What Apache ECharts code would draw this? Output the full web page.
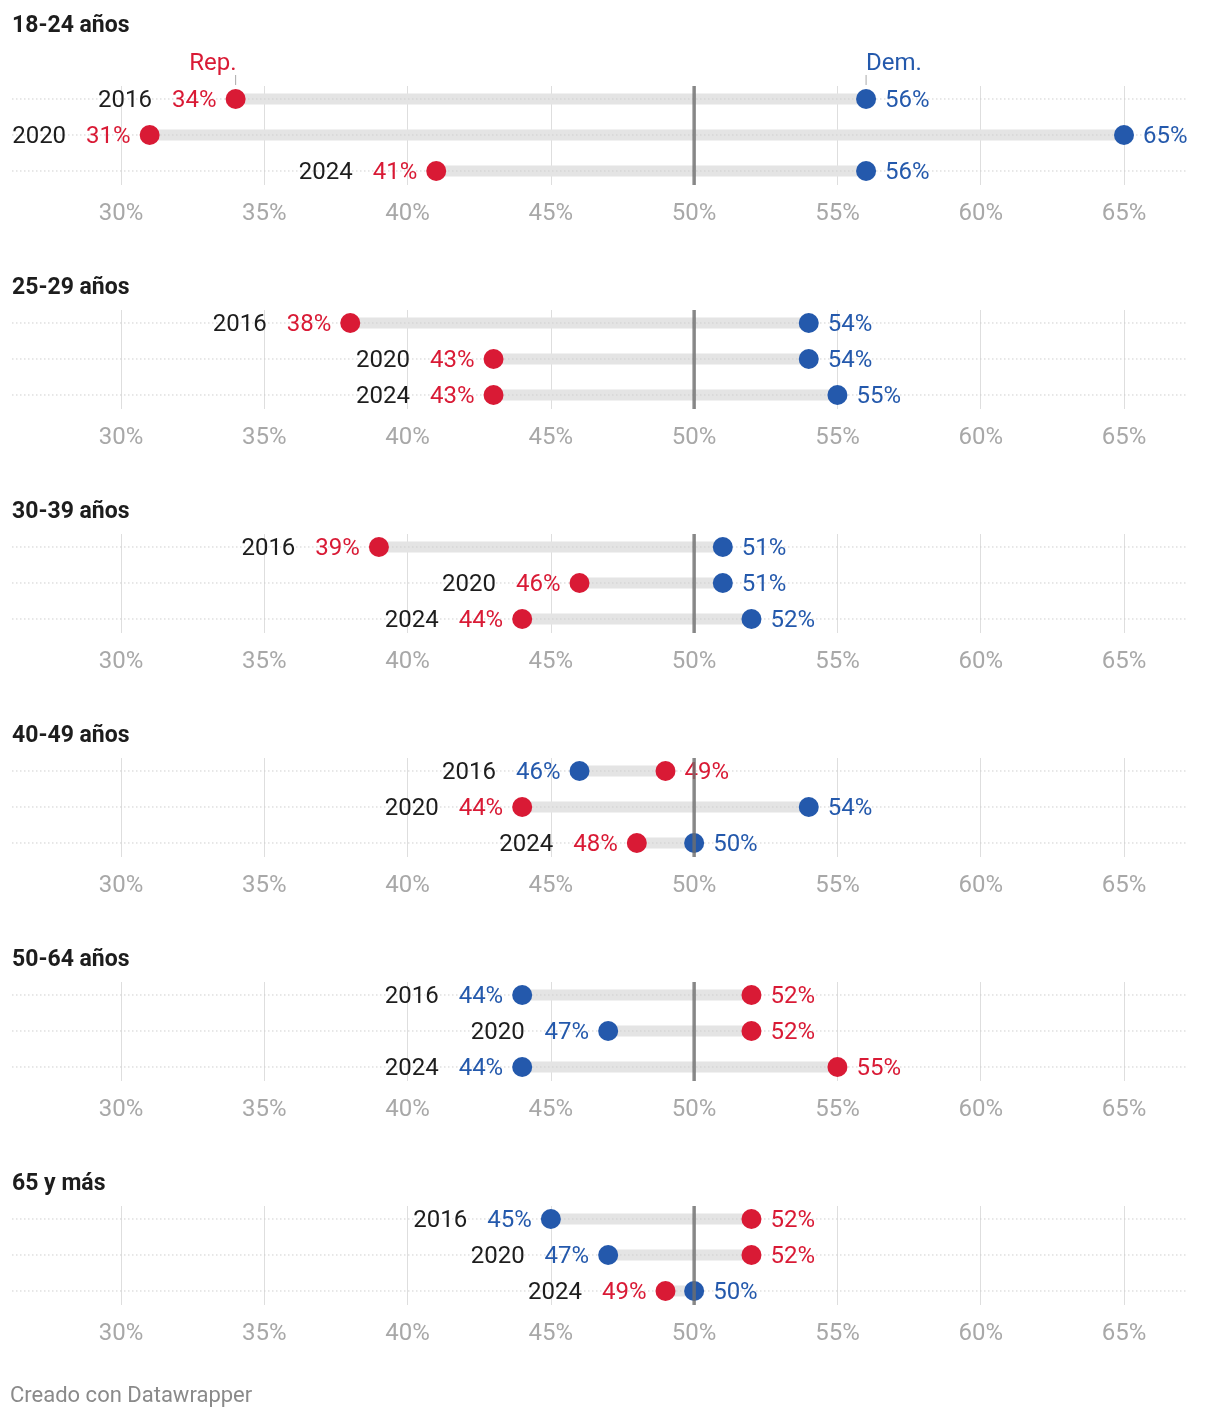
<!DOCTYPE html>
<html>
<head>
<meta charset="utf-8">
<script src="https://cdn.jsdelivr.net/npm/echarts@6/dist/echarts.min.js"></script>
<style>
  html, body { margin: 0; padding: 0; background: #ffffff; }
  #chart { width: 1220px; height: 1418px; }
</style>
</head>
<body>
<div id="chart"></div>
<script>
// ---- Data ----
const groups = ['18-24 años', '25-29 años', '30-39 años', '40-49 años', '50-64 años', '65 y más'];
const years = ['2016', '2020', '2024'];
const repShare = [
  [34, 31, 41],
  [38, 43, 43],
  [39, 46, 44],
  [49, 44, 48],
  [52, 52, 55],
  [52, 52, 49]
];
const demShare = [
  [56, 65, 56],
  [54, 54, 55],
  [51, 51, 52],
  [46, 54, 50],
  [44, 47, 44],
  [45, 47, 50]
];
const tickValues = [30, 35, 40, 45, 50, 55, 60, 65];
const midline = 50;
const repLabel = 'Rep.';
const demLabel = 'Dem.';
const footer = 'Creado con Datawrapper';

// ---- Style ----
const FONT = 'Roboto, "Noto Sans", sans-serif';
const REP = '#d91a35';
const DEM = '#2459ac';
const TXT = '#1d1d1d';
const FS = 24;

const X0 = 121, PX = (1124 - 121) / 35;   // pixel of 30%, px per point
const AX_MIN = 25, AX_MAX = 70;
const PANEL_STEP = 224;
const ROW_LINE_LEFT = 12, ROW_LINE_RIGHT = 1186;

const measureCtx = document.createElement('canvas').getContext('2d');
measureCtx.font = FS + 'px ' + FONT;
function tw(t) { return measureCtx.measureText(t).width; }

const chart = echarts.init(document.getElementById('chart'), null, { renderer: 'canvas' });

const grids = [], xAxes = [], yAxes = [], series = [], titles = [];
groups.forEach((g, k) => {
  const top = 86 + PANEL_STEP * k;
  grids.push({
    left: X0 - (30 - AX_MIN) * PX,
    width: (AX_MAX - AX_MIN) * PX,
    top: top,
    height: 99,
    containLabel: false,
    outerBoundsMode: 'none'
  });
  xAxes.push({
    type: 'value', gridIndex: k, min: AX_MIN, max: AX_MAX, interval: 5,
    axisLine: { show: false }, axisTick: { show: false },
    axisLabel: {
      margin: 17, color: '#a8a8a8', fontSize: FS, fontFamily: FONT,
      formatter: v => tickValues.indexOf(v) >= 0 ? v + '%' : ''
    },
    splitLine: { show: true, lineStyle: { color: '#dedede', width: 1 } }
  });
  yAxes.push({
    type: 'value', gridIndex: k, inverse: true, min: -0.361, max: 2.389,
    show: false, splitLine: { show: false }
  });
  titles.push({
    text: g, left: 12, top: (k === 0 ? 13 : 275 + PANEL_STEP * (k - 1)), padding: 0,
    textStyle: { fontSize: 23, fontWeight: 'bold', color: TXT, fontFamily: FONT, lineHeight: 26 }
  });

  const data = years.map((y, i) => [i, repShare[k][i], demShare[k][i]]);
  series.push({
    type: 'custom', xAxisIndex: k, yAxisIndex: k, clip: false, z: 2,
    dimensions: ['row', 'rep', 'dem'],
    encode: { x: [1, 2], y: 0 },
    data: data,
    renderItem: function (params, api) {
      const row = api.value(0), r = api.value(1), d = api.value(2);
      const pr = api.coord([r, row]);
      const pd = api.coord([d, row]);
      const y = pr[1];
      const ty = y + 2;
      const repLeft = pr[0] <= pd[0];
      const lx = Math.min(pr[0], pd[0]), rx = Math.max(pr[0], pd[0]);
      const lText = (repLeft ? r : d) + '%', rText = (repLeft ? d : r) + '%';
      const lCol = repLeft ? REP : DEM, rCol = repLeft ? DEM : REP;
      const font = FS + 'px ' + FONT;
      const children = [
        { type: 'rect', shape: { x: lx, y: y - 5.5, width: rx - lx, height: 11 }, style: { fill: '#e4e4e4' } },
        { type: 'line', shape: { x1: ROW_LINE_LEFT, y1: y, x2: ROW_LINE_RIGHT, y2: y },
          style: { stroke: '#cfcfcf', lineWidth: 1, lineDash: [1.5, 2.5] } },
        { type: 'circle', shape: { cx: pr[0], cy: y, r: 10 }, style: { fill: REP } },
        { type: 'circle', shape: { cx: pd[0], cy: y, r: 10 }, style: { fill: DEM } },
        { type: 'text', style: { text: lText, x: lx - 19, y: ty, align: 'right', verticalAlign: 'middle', font: font, fill: lCol } },
        { type: 'text', style: { text: rText, x: rx + 19, y: ty, align: 'left', verticalAlign: 'middle', font: font, fill: rCol } },
        { type: 'text', style: { text: years[row], x: lx - 19 - tw(lText) - 20, y: ty, align: 'right', verticalAlign: 'middle', font: font, fill: TXT } }
      ];
      if (k === 0 && row === 0) {
        children.push(
          { type: 'text', style: { text: repLabel, x: pr[0] + 1, y: y - 35, align: 'right', verticalAlign: 'middle', font: FS + 'px ' + FONT, fill: REP } },
          { type: 'line', shape: { x1: pr[0], y1: y - 24, x2: pr[0], y2: y - 14 }, style: { stroke: '#aaaaaa', lineWidth: 1 } },
          { type: 'text', style: { text: demLabel, x: pd[0], y: y - 35, align: 'left', verticalAlign: 'middle', font: FS + 'px ' + FONT, fill: DEM } },
          { type: 'line', shape: { x1: pd[0], y1: y - 24, x2: pd[0], y2: y - 14 }, style: { stroke: '#aaaaaa', lineWidth: 1 } }
        );
      }
      return { type: 'group', children: children };
    }
  });
  // 50% reference line
  series.push({
    type: 'custom', xAxisIndex: k, yAxisIndex: k, clip: false, z: 5,
    data: [[midline, 1]],
    renderItem: function (params, api) {
      const p = api.coord([api.value(0), api.value(1)]);
      const cs = params.coordSys;
      return { type: 'line', shape: { x1: p[0], y1: cs.y, x2: p[0], y2: cs.y + cs.height },
        style: { stroke: 'rgba(110,110,110,0.8)', lineWidth: 3.5 } };
    }
  });
});

titles.push({
  text: footer, left: 10, top: 1383, padding: 0,
  textStyle: { fontSize: 22, fontWeight: 'normal', color: '#8a8a8a', fontFamily: FONT, lineHeight: 26 }
});

chart.setOption({
  animation: false,
  backgroundColor: '#ffffff',
  textStyle: { fontFamily: FONT },
  title: titles,
  grid: grids,
  xAxis: xAxes,
  yAxis: yAxes,
  series: series
});
</script>
</body>
</html>
